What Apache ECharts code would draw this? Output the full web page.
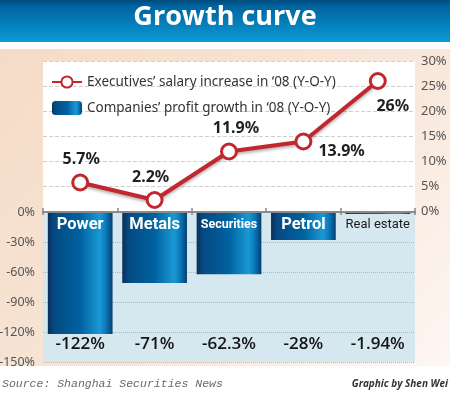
<!DOCTYPE html>
<html>
<head>
<meta charset="utf-8">
<script src="https://cdn.jsdelivr.net/npm/echarts@6/dist/echarts.min.js"></script>
<style>
html,body{margin:0;padding:0;background:#fff;}
#chart{width:450px;height:395px;}
</style>
</head>
<body>
<div id="chart"></div>
<script>
// ---- data ----
const categories = ['Power', 'Metals', 'Securities', 'Petrol', 'Real estate'];
const salaryIncrease = [5.7, 2.2, 11.9, 13.9, 26];          // executives' salary increase, %
const profitGrowth = [-122, -71, -62.3, -28, -1.94];        // companies' profit growth, %
const salaryName = 'Executives\u2019 salary increase in \u201808 (Y-O-Y)';
const profitName = 'Companies\u2019 profit growth in \u201808 (Y-O-Y)';
const titleText = 'Growth curve';
const sourceText = 'Source: Shanghai Securities News';
const creditText = 'Graphic by Shen Wei';

// label placement for line points (style only)
const lineLabelPlacement = [
  {position: 'top', offset: [1, 0]},
  {position: 'top', offset: [-4, 0]},
  {position: 'top', offset: [7, 0]},
  {position: 'right', offset: [0, 10]},
  {position: 'bottom', offset: [15, 2]}
];

const chart = echarts.init(document.getElementById('chart'), null, {renderer: 'canvas'});

const sans = '"Noto Sans", "Open Sans", sans-serif';
const barGrad = new echarts.graphic.LinearGradient(0, 0, 1, 0, [
  {offset: 0, color: '#0b2f5a'},
  {offset: 0.1, color: '#054a82'},
  {offset: 0.5, color: '#0062a0'},
  {offset: 0.8, color: '#1a98d4'},
  {offset: 0.88, color: '#0d7fc0'},
  {offset: 1, color: '#043f74'}
]);

const option = {
  animation: false,
  backgroundColor: new echarts.graphic.LinearGradient(0, 0, 1, 1, [
    {offset: 0, color: '#f4dac4'},
    {offset: 0.6, color: '#f8e7da'},
    {offset: 1, color: '#fff8f5'}
  ]),
  graphic: [
    {type: 'rect', shape: {x: 0, y: 0, width: 450, height: 42},
      style: {fill: new echarts.graphic.LinearGradient(0, 0, 0, 1, [
        {offset: 0, color: '#004a7c'},
        {offset: 0.15, color: '#00649f'},
        {offset: 1, color: '#0a9bd6'}
      ])}},
    {type: 'rect', shape: {x: 0, y: 42, width: 450, height: 7}, style: {fill: '#ffffff'}},
    {type: 'rect', shape: {x: 0, y: 366, width: 450, height: 29}, style: {fill: '#ffffff'}},
    {type: 'text', left: 'center', top: 4,
      style: {text: titleText, fill: '#ffffff', font: 'bold 27px "Open Sans", sans-serif'}},
    {type: 'text', left: 2, top: 378,
      style: {text: sourceText, fill: '#6a6a6a', font: 'italic 11.5px "Liberation Mono", monospace'}},
    {type: 'text', right: 2, top: 379,
      style: {text: creditText, fill: '#333', font: 'italic bold 10px "Open Sans", sans-serif'}}
  ],
  legend: {
    orient: 'vertical', left: 46, top: 70, itemGap: 12,
    itemWidth: 30, itemHeight: 14,
    data: [salaryName, profitName],
    textStyle: {color: '#333', fontSize: 13.5, fontFamily: sans}
  },
  grid: [
    {left: 43, right: 35, top: 61, height: 150, show: true, backgroundColor: '#ffffff', borderWidth: 0,
      outerBoundsMode: 'none', containLabel: false},
    {left: 43, right: 35, top: 212, height: 150, show: true, backgroundColor: '#d6e8ef', borderWidth: 0,
      outerBoundsMode: 'none', containLabel: false}
  ],
  xAxis: [
    {gridIndex: 0, type: 'category', data: categories, position: 'bottom',
      axisLine: {show: false, onZero: false}, axisLabel: {show: false},
      axisTick: {show: true, length: 4, lineStyle: {color: '#888', width: 1.5}}},
    {gridIndex: 1, type: 'category', data: categories, position: 'top', z: 10,
      axisLine: {show: true, onZero: false, lineStyle: {color: '#8a8a8a', width: 2}},
      axisTick: {show: true, length: 4, lineStyle: {color: '#888', width: 1.5}},
      axisLabel: {inside: true, margin: 4, interval: 0,
        formatter: function (v, i) {
          if (i === 4) return '{r|' + v + '}';
          if (i === 2) return '{s|' + v + '}';
          return '{w|' + v + '}';
        },
        rich: {
          w: {color: '#ffffff', fontSize: 16.5, fontWeight: 'bold', fontFamily: 'Roboto, sans-serif'},
          s: {color: '#ffffff', fontSize: 12.5, fontWeight: 'bold', fontFamily: 'Roboto, sans-serif', padding: [2, 0, 0, 0]},
          r: {color: '#1a1a1a', fontSize: 13, fontFamily: 'Roboto, sans-serif', padding: [2, 0, 0, 0]}
        }}},
    {gridIndex: 1, type: 'category', data: categories, position: 'bottom', z: 10,
      axisLine: {show: false, onZero: false}, axisTick: {show: false},
      axisLabel: {inside: true, margin: 9, interval: 0, color: '#141414', fontSize: 17, fontWeight: 600,
        fontFamily: '"Open Sans", "Noto Sans", sans-serif',
        formatter: function (v, i) { return profitGrowth[i] + '%'; }}}
  ],
  yAxis: [
    {gridIndex: 0, type: 'value', position: 'right', min: 0, max: 30, interval: 5,
      axisLine: {show: false}, axisTick: {show: false},
      axisLabel: {formatter: '{value}%', color: '#555', fontSize: 13, margin: 6, fontFamily: sans},
      splitLine: {show: true, lineStyle: {color: '#cfcfcf', type: 'dashed', width: 1}}},
    {gridIndex: 1, type: 'value', position: 'left', min: -150, max: 0, interval: 30,
      axisLine: {show: false}, axisTick: {show: false},
      axisLabel: {formatter: '{value}%', color: '#555', fontSize: 12.5, margin: 8, fontFamily: sans},
      splitLine: {show: true, lineStyle: {color: '#a8bcc6', type: 'dotted', width: 1}}}
  ],
  series: [
    {name: profitName, type: 'bar', xAxisIndex: 1, yAxisIndex: 1,
      barWidth: '87%', data: profitGrowth,
      itemStyle: {color: barGrad}},
    {name: salaryName, type: 'line', xAxisIndex: 0, yAxisIndex: 0,
      data: salaryIncrease.map(function (v, i) {
        return {value: v, label: lineLabelPlacement[i]};
      }),
      symbol: 'circle', symbolSize: 15, z: 5,
      lineStyle: {color: '#c1272d', width: 4, shadowColor: 'rgba(0,0,0,0.3)', shadowBlur: 3, shadowOffsetY: 2},
      itemStyle: {color: '#ffffff', borderColor: '#c1272d', borderWidth: 3},
      label: {show: true, formatter: '{c}%', color: '#1f1f1f', fontSize: 16, fontWeight: 'bold', fontFamily: sans, distance: 6}}
  ]
};
chart.setOption(option);
</script>
</body>
</html>
